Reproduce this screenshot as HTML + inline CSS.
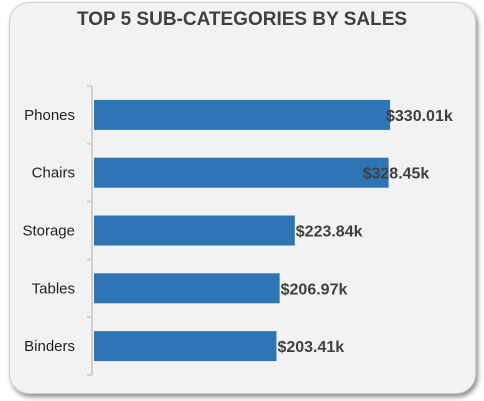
<!DOCTYPE html>
<html><head><meta charset="utf-8">
<style>
html,body{margin:0;padding:0;background:#fff;}
body{width:484px;height:401px;overflow:hidden;position:relative;font-family:"Liberation Sans",sans-serif;}
#card{position:absolute;left:9px;top:2px;width:467px;height:392px;background:#f2f2f2;border:1px solid #d0d0d0;border-radius:20px;box-shadow:2px 3px 5px rgba(0,0,0,0.45);box-sizing:border-box;}
svg{position:absolute;left:0;top:0;}
</style></head>
<body>
<div id="card"></div>
<svg id="chart" width="484" height="401">
<text x="242" y="25" text-anchor="middle" font-size="19" font-weight="bold" fill="#404040">TOP 5 SUB-CATEGORIES BY SALES</text>
</svg>
<script>
const categories = ["Phones","Chairs","Storage","Tables","Binders"];
const sales = [330.01,328.45,223.84,206.97,203.41];
const valueLabels = ["$330.01k","$328.45k","$223.84k","$206.97k","$203.41k"];
const labelDx = [-4,-26,1,1,1];
const svg = document.getElementById('chart');
const NS = 'http://www.w3.org/2000/svg';
const x0 = 94, pxPerK = 296/330.01;
const yTop = 86, yBot = 375, band = (yBot-yTop)/categories.length, barH = 30;
const xs = v => x0 + v*pxPerK;
function mk(tag, attrs){const e=document.createElementNS(NS,tag);for(const k in attrs)e.setAttribute(k,attrs[k]);svg.appendChild(e);return e;}
const axis = mk('line',{x1:92,x2:92,y1:yTop,y2:yBot,stroke:'#d0d0d0','stroke-width':2});


for(let i=0;i<=categories.length;i++){
  const y=yTop+i*band;
  const t=mk('line',{x1:87,x2:92,y1:y,y2:y,stroke:'#d0d0d0','stroke-width':2});
  
  
}
categories.forEach((c,i)=>{
  const cy=yTop+band*(i+0.5);
  const r=mk('rect',{x:x0,y:cy-barH/2,width:xs(sales[i])-x0,height:barH,fill:'#2e75b6'});
  
  
  const lt=mk('text',{x:75,y:cy+5,'text-anchor':'end','font-size':15,fill:'#222'});
  lt.textContent=c;
  
  
  const vt=mk('text',{x:xs(sales[i])+labelDx[i],y:cy+6,'font-size':16,'font-weight':'bold',fill:'#404040'});
  vt.textContent=valueLabels[i];
  
  
});
</script>
</body></html>
